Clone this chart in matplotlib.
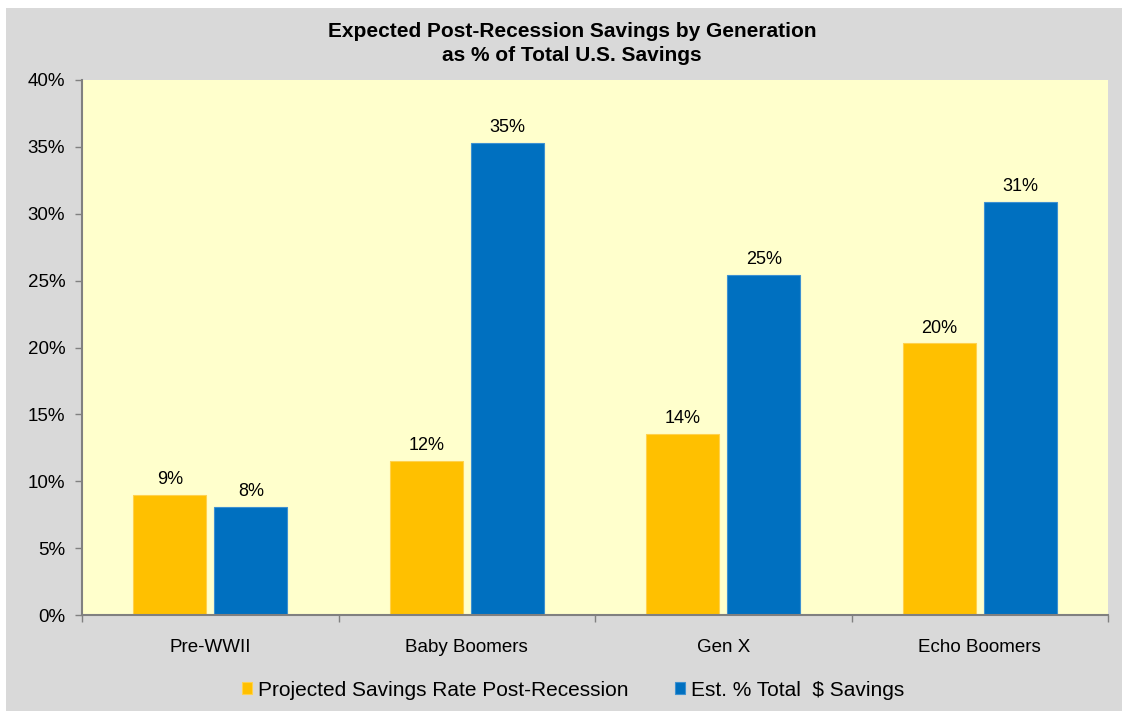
import matplotlib.pyplot as plt
import numpy as np
from matplotlib.patches import Rectangle
from matplotlib.ticker import FuncFormatter, FixedLocator

plt.rcParams['font.family'] = ['Liberation Sans', 'DejaVu Sans']

generations = ['Pre-WWII', 'Baby Boomers', 'Gen X', 'Echo Boomers']
savings_rate = [9.0, 11.5, 13.5, 20.3]
share_of_savings = [8.1, 35.3, 25.4, 30.9]
series_names = ['Projected Savings Rate Post-Recession', 'Est. % Total  $ Savings']
y_ticks = [0, 5, 10, 15, 20, 25, 30, 35, 40]

orange = '#FFC000'
blue = '#0070C0'

fig = plt.figure(figsize=(11.22, 7.11), dpi=100, facecolor='white')
# Gray chart panel behind everything
fig.patches.append(Rectangle((6 / 1122, 0), 1, 1 - 8 / 711, transform=fig.transFigure,
                             facecolor='#D9D9D9', edgecolor='none', zorder=-10))

ax = fig.add_axes([82 / 1122, 1 - 615 / 711, (1108 - 82) / 1122, (615 - 80) / 711])
ax.set_facecolor('#FFFFCC')

x = np.arange(len(generations))
width = 0.285
offset = width / 2 + 0.0155
b1 = ax.bar(x - offset, savings_rate, width, color=orange, edgecolor='#FFD24D',
            linewidth=0.8, label=series_names[0], zorder=2)
b2 = ax.bar(x + offset, share_of_savings, width, color=blue, edgecolor='#3D91D1',
            linewidth=0.8, label=series_names[1], zorder=2)

for bars in (b1, b2):
    for bar in bars:
        h = bar.get_height()
        ax.annotate(f'{h:.0f}%', (bar.get_x() + bar.get_width() / 2, h),
                    xytext=(0, 5), textcoords='offset points',
                    ha='center', va='bottom', fontsize=13)

ax.set_xlim(-0.5, len(generations) - 0.5)
ax.set_ylim(0, 40)
ax.set_yticks(y_ticks)
ax.yaxis.set_major_formatter(FuncFormatter(lambda v, p: f'{v:.0f}%'))

# category labels centred, tick marks on the category boundaries
ax.set_xticks(x)
ax.set_xticklabels(generations)
ax.xaxis.set_minor_locator(FixedLocator(np.arange(-0.5, len(generations), 1.0)))
ax.tick_params(axis='x', which='major', length=0, pad=17, labelsize=13.5)
ax.tick_params(axis='x', which='minor', length=5, width=1, color='#808080', direction='out')
ax.tick_params(axis='y', length=5, width=1, color='#808080', pad=7, labelsize=13.5)

for side in ('top', 'right'):
    ax.spines[side].set_visible(False)
for side in ('left', 'bottom'):
    ax.spines[side].set_color('#808080')
    ax.spines[side].set_linewidth(1.5)

fig.text(572 / 1122, 1 - 43.5 / 711,
         'Expected Post-Recession Savings by Generation\nas % of Total U.S. Savings',
         ha='center', va='center', fontsize=15, fontweight='bold', linespacing=1.3)

fig.legend(handles=[b1, b2], loc='center', bbox_to_anchor=(573 / 1122, 1 - 690 / 711),
           ncol=2, frameon=False, fontsize=15, handlelength=0.5, handleheight=0.5,
           handletextpad=0.3, columnspacing=2.2)

fig.savefig('out.png', dpi=100, facecolor=fig.get_facecolor())
